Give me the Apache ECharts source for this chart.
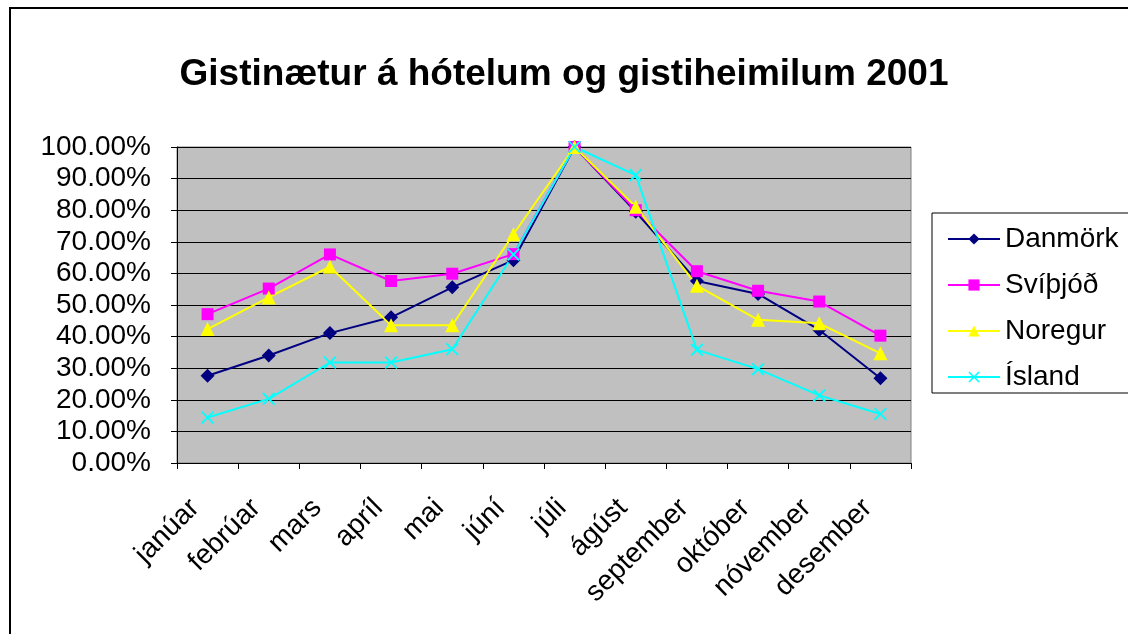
<!DOCTYPE html>
<html lang="is">
<head>
    <meta charset="UTF-8">
    <title>Gistinætur 2001</title>
    <script src="https://cdn.jsdelivr.net/npm/echarts@6/dist/echarts.min.js"></script>
</head>
<body style="margin:0;background:#fff;">
<div id="main" style="width:1128px;height:634px;"></div>
<script type="text/javascript">
    // mánuðir og hlutfall gistinátta (í % af hámarki, júlí = 100%)
    var months = ['janúar','febrúar','mars','apríl','mai','júní','júli','ágúst','september','október','nóvember','desember'];
    var danmork = [27.6, 34.0, 41.1, 46.1, 55.6, 64.2, 100, 79.5, 57.6, 53.5, 42.1, 26.8];
    var svithjod = [47.1, 55.2, 66.0, 57.6, 59.9, 66.1, 100, 80.0, 60.7, 54.5, 51.1, 40.3];
    var noregur = [42.4, 52.4, 62.1, 43.6, 43.6, 72.4, 100, 81.1, 56.1, 45.3, 44.2, 34.7];
    var island = [14.4, 20.3, 31.8, 31.8, 36.0, 66.0, 100, 91.1, 35.8, 29.7, 21.4, 15.5];

    var font = '"Liberation Sans", Arial, sans-serif';
    var crossPath = 'path://M0,1L1,0L5,4L9,0L10,1L6,5L10,9L9,10L5,6L1,10L0,9L4,5Z';

    var myChart = echarts.init(document.getElementById('main'));

    function line(name, data, color, symbol, size) {
        return {
            name: name,
            type: 'line',
            data: data,
            symbol: symbol,
            symbolSize: size,
            showAllSymbol: true,
            lineStyle: {color: color, width: 2},
            itemStyle: {color: color},
            emphasis: {disabled: true}
        };
    }

    myChart.setOption({
        animation: false,
        textStyle: {fontFamily: font, color: '#000'},
        title: {
            text: 'Gistinætur á hótelum og gistiheimilum 2001',
            left: 'center',
            top: 51,
            textStyle: {fontFamily: font, fontSize: 37, fontWeight: 'bold', color: '#000'}
        },
        graphic: [
            {type: 'rect', z: -10, shape: {x: 10, y: 8, width: 1200, height: 700},
             style: {fill: 'none', stroke: '#000', lineWidth: 2}},
            {type: 'rect', z: -10, shape: {x: 932, y: 213, width: 300, height: 180},
             style: {fill: '#fff', stroke: '#000', lineWidth: 1}}
        ],
        legend: {
            orient: 'vertical',
            left: 942,
            top: 219,
            itemWidth: 52,
            itemHeight: 14,
            itemGap: 16,
            textStyle: {fontFamily: font, fontSize: 28, color: '#000', lineHeight: 30},
            data: ['Danmörk', 'Svíþjóð', 'Noregur', 'Ísland']
        },
        grid: {left: 177, right: 217, top: 147, bottom: 171, show: true,
               backgroundColor: '#C0C0C0', borderColor: '#808080', borderWidth: 1},
        xAxis: {
            type: 'category',
            data: months,
            boundaryGap: true,
            axisLine: {lineStyle: {color: '#000', width: 1}},
            axisTick: {show: true, length: 6, lineStyle: {color: '#000'}},
            axisLabel: {rotate: 45, fontFamily: font, fontSize: 28, color: '#000',
                        margin: 28, padding: [0, 18, 0, 0], interval: 0}
        },
        yAxis: {
            type: 'value',
            min: 0,
            max: 100,
            interval: 10,
            axisLine: {show: true, lineStyle: {color: '#000'}},
            axisTick: {show: true, length: 6, lineStyle: {color: '#000'}},
            splitLine: {lineStyle: {color: '#000', width: 1}},
            axisLabel: {fontFamily: font, fontSize: 28, color: '#000', margin: 26,
                        formatter: function (v) { return v.toFixed(2) + '%'; }}
        },
        series: [
            line('Danmörk', danmork, '#000080', 'diamond', 14),
            line('Svíþjóð', svithjod, '#FF00FF', 'rect', 12),
            line('Noregur', noregur, '#FFFF00', 'triangle', 14),
            line('Ísland', island, '#00FFFF', crossPath, 13)
        ]
    });
</script>
</body>
</html>
